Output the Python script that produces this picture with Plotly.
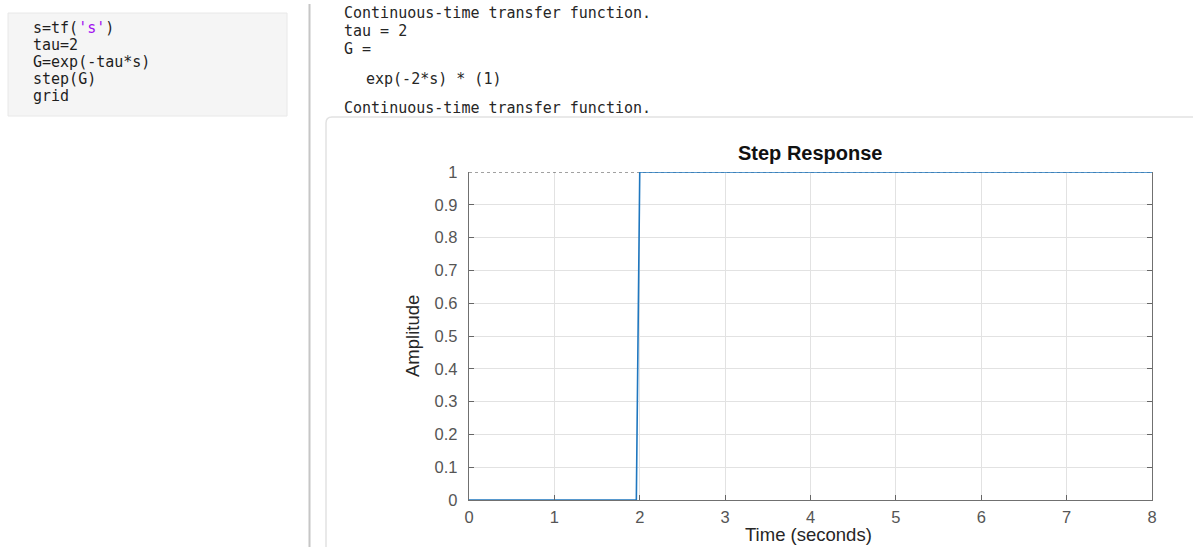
import plotly.graph_objects as go

# Step response of a pure delay G(s) = exp(-2 s)
time_s = [0.0, 1.96, 2.0, 8.0]
amplitude = [0.0, 0.0, 1.0, 1.0]
final_time = [0.0, 8.0]
final_value = [1.0, 1.0]

x_ticks = [0, 1, 2, 3, 4, 5, 6, 7, 8]
y_ticks = [0, 0.1, 0.2, 0.3, 0.4, 0.5, 0.6, 0.7, 0.8, 0.9, 1]
y_tick_text = ["0", "0.1", "0.2", "0.3", "0.4", "0.5", "0.6", "0.7", "0.8", "0.9", "1"]

code_lines = [
    "s=tf(<span style='color:#a20ff0'>'s'</span>)",
    "tau=2",
    "G=exp(-tau*s)",
    "step(G)",
    "grid",
]
output_lines = [
    ("Continuous-time transfer function.", 342, 13),
    ("tau = 2", 342, 31),
    ("G =", 342, 49),
    ("exp(-2*s) * (1)", 364, 79),
    ("Continuous-time transfer function.", 342, 108),
]

W, H = 1193, 547


def px(x):
    return x / W


def py(y):
    return 1 - y / H


fig = go.Figure()

# steady-state (final value) marker
fig.add_trace(go.Scatter(
    x=final_time, y=final_value, mode="lines",
    line=dict(color="#444444", width=1.2, dash="dot"),
    hoverinfo="skip", showlegend=False,
))
fig.add_trace(go.Scatter(
    x=time_s, y=amplitude, mode="lines",
    line=dict(color="#1f77bf", width=1.6),
    showlegend=False,
))

axis_font = dict(family="Liberation Sans, Arial, sans-serif", size=16.5, color="#555555")

fig.update_layout(
    width=W, height=H,
    margin=dict(l=0, r=0, t=0, b=0, pad=0, autoexpand=False),
    paper_bgcolor="white",
    plot_bgcolor="white",
    xaxis=dict(
        domain=[px(469), px(1152)],
        range=[0, 8],
        tickvals=x_ticks,
        ticks="inside", ticklen=5, tickcolor="#666666",
        showline=True, linecolor="#707070", linewidth=1.3,
        showgrid=True, gridcolor="#e2e2e2", gridwidth=1,
        zeroline=False, automargin=False,
        tickfont=axis_font,
        ticklabelstandoff=2,
    ),
    yaxis=dict(
        domain=[py(500), py(172)],
        range=[0, 1],
        tickvals=y_ticks, ticktext=y_tick_text,
        ticks="inside", ticklen=5, tickcolor="#666666",
        showline=True, linecolor="#707070", linewidth=1.3, mirror="ticks",
        showgrid=True, gridcolor="#e2e2e2", gridwidth=1,
        zeroline=False, automargin=False,
        tickfont=axis_font,
        ticklabelstandoff=7,
    ),
)

shapes = [
    # code cell box
    dict(type="rect", xref="paper", yref="paper",
         x0=px(8), x1=px(287), y0=py(116), y1=py(13),
         fillcolor="#f5f5f5", line=dict(color="#e8e8e8", width=1), layer="below"),
    # divider between code and output
    dict(type="line", xref="paper", yref="paper",
         x0=px(309.5), x1=px(309.5), y0=py(547), y1=py(4),
         line=dict(color="#c6c6c6", width=2)),
    # figure output frame
    dict(type="path", xref="paper", yref="paper",
         path=(f"M {px(326)},{py(547)} L {px(326)},{py(123)} "
               f"Q {px(326)},{py(117)} {px(332)},{py(117)} L {px(1193)},{py(117)}"),
         line=dict(color="#e2e2e2", width=1.5), layer="below"),
]
fig.update_layout(shapes=shapes)

annotations = []
mono = "DejaVu Sans Mono, Liberation Mono, monospace"
for i, line in enumerate(code_lines):
    annotations.append(dict(
        text=line, xref="paper", yref="paper",
        x=px(31), y=py(28 + 17 * i), xanchor="left", yanchor="middle",
        showarrow=False, font=dict(family=mono, size=15, color="#1e1e1e"),
    ))
for text, x, y in output_lines:
    annotations.append(dict(
        text=text, xref="paper", yref="paper",
        x=px(x), y=py(y), xanchor="left", yanchor="middle",
        showarrow=False, font=dict(family=mono, size=15, color="#262626"),
    ))

label_font = dict(family="Liberation Sans, Arial, sans-serif", size=18.5, color="#262626")
annotations += [
    dict(text="<b>Step Response</b>", xref="paper", yref="paper",
         x=px(810), y=py(153), xanchor="center", yanchor="middle", showarrow=False,
         font=dict(family="Liberation Sans, Arial, sans-serif", size=20, color="#111111")),
    dict(text="Time (seconds)", xref="paper", yref="paper",
         x=px(808), y=py(534), xanchor="center", yanchor="middle", showarrow=False,
         font=label_font),
    dict(text="Amplitude", xref="paper", yref="paper", textangle=-90,
         x=px(412), y=py(336), xanchor="center", yanchor="middle", showarrow=False,
         font=label_font),
]
fig.update_layout(annotations=annotations)

fig.write_html("out.html")
